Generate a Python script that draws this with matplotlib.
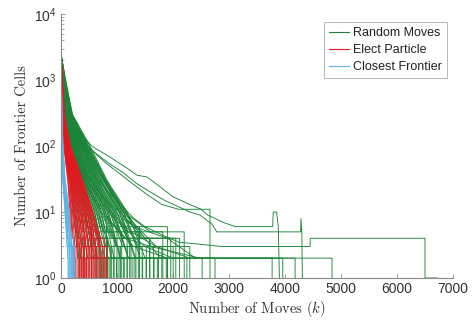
import matplotlib
matplotlib.use("Agg")
import matplotlib.pyplot as plt
from matplotlib.lines import Line2D

# ---------------------------------------------------------------------------
# Frontier size per run: every run starts with START_CELLS frontier cells.
# Dense runs: moves at which the run reaches each of DENSE_LEVELS, then a
# tail level, the move at which it reaches that level, and the final move.
# ---------------------------------------------------------------------------
START_CELLS = 2500
DENSE_LEVELS = [1000, 300, 100, 30, 10]

method_names = ["Random Moves", "Elect Particle", "Closest Frontier"]
method_colors = ["#1b8438", "#e5171f", "#5cb5e6"]

# columns: m@1000, m@300, m@100, m@30, m@10, tail level, m@tail, last move
random_moves_runs = [
    [15, 40, 75, 160, 220, 3, 280, 330],
    [16, 45, 85, 178, 245, 2, 320, 372],
    [18, 50, 96, 190, 268, 4, 322, 410],
    [19, 55, 104, 207, 296, 2, 380, 452],
    [20, 58, 116, 222, 318, 3, 402, 498],
    [22, 61, 124, 240, 347, 5, 398, 545],
    [23, 67, 136, 252, 372, 2, 468, 588],
    [25, 70, 144, 272, 394, 3, 505, 632],
    [26, 73, 156, 288, 421, 4, 518, 676],
    [28, 79, 163, 306, 447, 2, 562, 724],
    [29, 82, 176, 322, 468, 3, 592, 768],
    [31, 85, 186, 338, 502, 6, 558, 812],
    [32, 91, 194, 357, 524, 2, 648, 858],
    [34, 94, 206, 368, 552, 3, 684, 905],
    [35, 97, 214, 392, 574, 4, 702, 948],
    [37, 103, 226, 404, 603, 2, 738, 992],
    [38, 106, 233, 421, 624, 3, 782, 1036],
    [40, 110, 247, 438, 652, 5, 758, 1084],
    [42, 113, 254, 456, 673, 2, 842, 1128],
    [44, 118, 266, 471, 702, 3, 868, 1182],
    [46, 122, 274, 492, 728, 4, 902, 1226],
    [48, 127, 291, 508, 762, 2, 948, 1284],
    [50, 130, 298, 532, 788, 3, 982, 1338],
    [52, 136, 316, 548, 822, 6, 904, 1402],
    [54, 139, 331, 572, 848, 2, 1062, 1458],
    [56, 146, 344, 588, 882, 3, 1098, 1524],
    [58, 150, 362, 616, 908, 4, 1122, 1588],
    [60, 157, 374, 642, 952, 2, 1204, 1662],
    [63, 161, 392, 663, 988, 3, 1238, 1742],
    [66, 169, 408, 692, 1032, 5, 1196, 1818],
    [70, 174, 432, 718, 1068, 2, 1332, 1904],
    [74, 184, 448, 752, 1112, 3, 1378, 2002],
    [78, 191, 482, 778, 1148, 4, 1404, 2118],
    [84, 206, 518, 822, 1182, 2, 1502, 2248],
    [60, 180, 480, 800, 1150, 4, 1500, 2050],
    [70, 200, 470, 780, 1100, 3, 1700, 2300],
    [50, 150, 420, 760, 1120, 5, 1600, 2200],
    [45, 140, 400, 700, 1050, 6, 1300, 1900],
    [24, 64, 140, 300, 430, 3, 540, 700],
    [27, 72, 160, 330, 480, 2, 600, 760],
    [30, 80, 180, 360, 520, 4, 640, 830],
    [33, 88, 200, 390, 560, 3, 700, 880],
    [36, 96, 220, 420, 600, 2, 780, 940],
    [39, 104, 240, 450, 640, 5, 720, 1000],
    [41, 112, 260, 480, 680, 3, 840, 1060],
    [43, 120, 280, 510, 720, 2, 900, 1120],
    [45, 128, 300, 540, 760, 4, 920, 1180],
    [47, 134, 320, 560, 800, 3, 1000, 1250],
    [49, 142, 340, 590, 840, 2, 1060, 1320],
    [51, 148, 355, 610, 870, 5, 1000, 1380],
    [53, 152, 370, 630, 900, 3, 1140, 1450],
    [55, 158, 385, 650, 930, 2, 1200, 1520],
    [57, 163, 400, 670, 960, 4, 1180, 1580],
    [59, 166, 415, 700, 1000, 3, 1260, 1650],
    [61, 172, 430, 730, 1040, 2, 1320, 1720],
    [64, 178, 445, 760, 1080, 3, 1360, 1800],
    [67, 186, 460, 790, 1120, 2, 1420, 1880],
    [71, 195, 500, 810, 1160, 4, 1450, 1960],
]

elect_particle_runs = [
    [8, 20, 50, 120, 160, 3, 190, 215],
    [9, 22, 56, 131, 176, 4, 198, 232],
    [10, 24, 60, 139, 188, 2, 238, 252],
    [10, 25, 63, 151, 206, 3, 248, 268],
    [11, 26, 66, 158, 221, 5, 262, 302],
    [12, 28, 71, 171, 234, 2, 298, 318],
    [12, 29, 73, 181, 251, 3, 312, 342],
    [13, 30, 76, 189, 264, 4, 318, 362],
    [13, 32, 81, 202, 282, 2, 352, 378],
    [14, 33, 84, 209, 301, 3, 368, 402],
    [14, 34, 88, 221, 314, 5, 362, 421],
    [15, 36, 93, 229, 332, 2, 408, 442],
    [15, 37, 95, 241, 346, 3, 422, 458],
    [16, 38, 99, 251, 358, 4, 432, 482],
    [16, 40, 102, 259, 381, 2, 468, 502],
    [17, 41, 107, 272, 394, 3, 482, 518],
    [17, 42, 110, 279, 412, 6, 458, 546],
    [18, 44, 115, 291, 424, 2, 522, 568],
    [18, 45, 118, 302, 441, 3, 538, 592],
    [19, 46, 123, 309, 462, 4, 552, 614],
    [19, 48, 126, 321, 474, 2, 582, 642],
    [20, 50, 133, 329, 492, 3, 598, 658],
    [21, 52, 138, 342, 504, 5, 582, 692],
    [22, 54, 145, 349, 522, 2, 638, 712],
    [23, 56, 150, 361, 534, 3, 662, 738],
    [24, 58, 157, 368, 552, 4, 678, 772],
    [25, 60, 162, 382, 561, 2, 722, 798],
    [26, 62, 170, 390, 570, 3, 742, 820],
]

closest_frontier_runs = [
    [3, 8, 15, 30, 70, 3, 110, 125],
    [3, 9, 17, 34, 78, 2, 122, 138],
    [4, 10, 19, 38, 86, 4, 118, 150],
    [4, 11, 21, 42, 94, 3, 136, 162],
    [5, 12, 23, 46, 102, 2, 152, 176],
    [5, 13, 25, 50, 110, 5, 140, 188],
    [6, 14, 27, 55, 118, 3, 166, 200],
    [6, 15, 29, 60, 126, 2, 184, 214],
    [7, 16, 31, 65, 134, 4, 176, 226],
    [7, 17, 33, 70, 142, 3, 198, 238],
    [8, 18, 36, 76, 150, 2, 214, 250],
]

# Long Random Moves runs, as (move, frontier cells) polyline breakpoints.
random_moves_tail_runs = [
    [(0, 2500), (40, 1000), (140, 300), (340, 157), (560, 98), (875, 68),
     (1180, 46), (1360, 36), (1535, 34), (1770, 24), (2000, 17),
     (2300, 13), (2500, 11), (2620, 9), (2890, 7), (3110, 6), (3780, 6),
     (3790, 10), (3850, 10), (3880, 6), (3900, 1)],
    [(0, 2500), (40, 1000), (130, 300), (320, 130), (600, 80), (850, 55),
     (1100, 40), (1350, 27), (1600, 20), (1850, 15), (2100, 12),
     (2300, 10), (2480, 9), (2700, 6.5), (2780, 5), (4280, 5), (4285, 8),
     (4300, 5), (4310, 1)],
    [(0, 2500), (30, 1000), (110, 300), (280, 100), (520, 40), (700, 28),
     (900, 18), (1100, 12), (1300, 8), (1500, 6), (1800, 4.5),
     (2100, 3.5), (2870, 3), (4450, 3), (4450, 4), (6500, 4), (6500, 1),
     (6720, 1)],
    [(0, 2500), (28, 1000), (100, 300), (260, 100), (480, 35), (650, 22),
     (850, 14), (1050, 10), (1300, 6), (1500, 4), (1770, 2), (4840, 2),
     (4840, 1)],
    [(0, 2500), (25, 1000), (90, 300), (240, 100), (430, 32), (600, 20),
     (780, 12), (950, 8), (1200, 5), (1500, 3), (2000, 2), (4180, 2),
     (4180, 1)],
    [(0, 2500), (22, 1000), (85, 300), (230, 100), (410, 30), (570, 18),
     (740, 11), (900, 7), (1150, 4), (1600, 3), (2480, 2), (3960, 2),
     (3960, 1)],
    [(0, 2500), (24, 1000), (92, 300), (250, 100), (440, 34), (610, 21),
     (800, 13), (1000, 8), (1250, 5), (1700, 3), (2300, 2), (3770, 2),
     (3770, 1)],
    [(0, 2500), (26, 1000), (95, 300), (255, 100), (460, 36), (640, 22),
     (820, 14), (1020, 9), (1300, 6), (1900, 4), (2400, 2), (2750, 2),
     (2750, 1)],
    [(0, 2500), (20, 1000), (80, 300), (220, 100), (400, 30), (560, 17),
     (720, 10), (950, 6), (1300, 3), (1900, 2), (2520, 2), (2520, 1)],
    [(0, 2500), (32, 1000), (120, 300), (330, 130), (560, 85), (800, 55),
     (1050, 38), (1300, 26), (1550, 18), (1800, 13), (2100, 11),
     (2660, 11), (2660, 1)],
]

x_ticks = [0, 1000, 2000, 3000, 4000, 5000, 6000, 7000]

plt.rcParams["mathtext.fontset"] = "cm"
plt.rcParams["font.family"] = ["Liberation Sans", "DejaVu Sans"]

fig = plt.figure(figsize=(4.74, 3.21), dpi=100)
ax = fig.add_axes([0.1287, 0.134, 0.8270, 0.8224])

LW = 0.65


def draw_dense(runs, color):
    for run in runs:
        level_moves = run[:5]
        tail_level, tail_move, last_move = run[5], run[6], run[7]
        xs = [0] + level_moves + [tail_move, last_move, last_move]
        ys = [START_CELLS] + DENSE_LEVELS + [tail_level, tail_level, 1]
        ax.plot(xs, ys, color=color, lw=LW, solid_joinstyle="miter")


# Random Moves underneath, then Elect Particle, then Closest Frontier
for run in random_moves_tail_runs:
    xs = [p[0] for p in run]
    ys = [p[1] for p in run]
    ax.plot(xs, ys, color=method_colors[0], lw=LW, solid_joinstyle="miter")
draw_dense(random_moves_runs, method_colors[0])
draw_dense(elect_particle_runs, method_colors[1])
draw_dense(closest_frontier_runs, method_colors[2])

ax.set_yscale("log")
ax.set_ylim(1, 1e4)
ax.set_xlim(0, 7000)
ax.set_xticks(x_ticks)

for side in ("top", "right"):
    ax.spines[side].set_visible(False)
for side in ("left", "bottom"):
    ax.spines[side].set_color("#8a8a8a")
    ax.spines[side].set_linewidth(0.8)

ax.tick_params(axis="both", which="major", direction="in", length=3,
               width=0.6, color="#8a8a8a", labelsize=10, labelcolor="#333333",
               pad=3)
ax.tick_params(axis="both", which="minor", direction="in", length=1.8,
               width=0.5, color="#8a8a8a")

ax.set_xlabel("Number of Moves ($k$)", family="cmr10", fontsize=10.5,
              color="#333333", labelpad=2)
ax.set_ylabel("Number of Frontier Cells", family="cmr10", fontsize=10.5,
              color="#333333", labelpad=4)

handles = [Line2D([], [], color=c, lw=0.8) for c in method_colors]
leg = ax.legend(handles, method_names, loc="upper right",
                bbox_to_anchor=(0.985, 0.97), fontsize=9, frameon=True,
                fancybox=False, edgecolor="#999999", handlelength=1.6,
                handletextpad=0.3, borderpad=0.4, labelspacing=0.4,
                borderaxespad=0.0)
leg.get_frame().set_linewidth(0.6)
for t in leg.get_texts():
    t.set_color("#222222")

fig.savefig("out.png", dpi=100)
